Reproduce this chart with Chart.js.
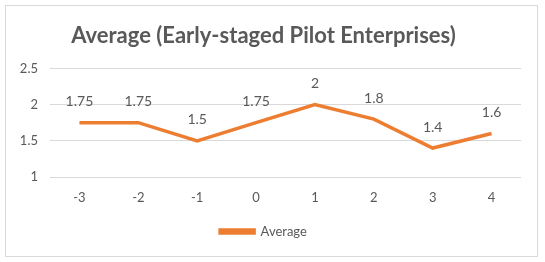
<!DOCTYPE html>
<html>
<head>
<meta charset="utf-8">
<script src="https://cdn.jsdelivr.net/npm/chart.js@4.4.0/dist/chart.umd.min.js"></script>
<style>
  html, body { margin: 0; padding: 0; background: #fff; }
  #box {
    position: absolute; left: 5px; top: 5px;
    width: 531px; height: 250px;
    border: 1px solid #d9d9d9;
  }
</style>
</head>
<body>
<div id="box"><canvas id="chart"></canvas></div>
<script>
// --- data ---
const categories = ['-3', '-2', '-1', '0', '1', '2', '3', '4'];
const averageValues = [1.75, 1.75, 1.5, 1.75, 2, 1.8, 1.4, 1.6];
const yTicks = [1, 1.5, 2, 2.5];

const textColor = '#595959';
const lineColor = '#ED7D31';
const gridColor = '#d9d9d9';

// labels above each point
const pointLabels = {
    id: 'pointLabels',
    afterDatasetsDraw(chart) {
        const ctx = chart.ctx;
        const meta = chart.getDatasetMeta(0);
        ctx.save();
        ctx.font = '14px Lato';
        ctx.fillStyle = textColor;
        ctx.textAlign = 'center';
        ctx.textBaseline = 'middle';
        meta.data.forEach((pt, i) => {
            ctx.fillText(String(averageValues[i]), pt.x, pt.y - 21);
        });
        ctx.restore();
    }
};

new Chart(document.getElementById('chart'), {
    type: 'line',
    data: {
        labels: categories,
        datasets: [{
            label: 'Average',
            data: averageValues,
            borderColor: lineColor,
            backgroundColor: lineColor,
            borderWidth: 3.5,
            pointRadius: 0,
            tension: 0,
            fill: false
        }]
    },
    options: {
        responsive: true,
        maintainAspectRatio: false,
        animation: false,
        layout: { padding: { left: 0, right: 16, top: 0, bottom: 8 } },
        scales: {
            y: {
                min: 1,
                max: 2.5,
                afterBuildTicks: (s) => { s.ticks = yTicks.map(v => ({ value: v })); },
                afterFit: (s) => { s.width = 44; },
                border: { display: false },
                grid: { color: gridColor, drawTicks: false },
                ticks: {
                    color: textColor, font: { family: 'Lato', size: 13 }, padding: 12,
                    callback: (v) => String(v)
                }
            },
            x: {
                offset: true,
                afterFit: (s) => { s.height = 34; },
                border: { display: false },
                grid: { display: false, drawTicks: false },
                ticks: { color: textColor, font: { family: 'Lato', size: 13 }, padding: 13 }
            }
        },
        plugins: {
            title: {
                display: true,
                text: 'Average (Early-staged Pilot Enterprises)',
                color: textColor,
                font: { family: 'Lato', size: 22, weight: 'bold' },
                padding: { top: 17, bottom: 19 }
            },
            legend: {
                position: 'bottom',
                labels: {
                    color: textColor,
                    font: { family: 'Lato', size: 13 },
                    boxWidth: 34,
                    boxHeight: 3,
                    padding: 14
                }
            },
            tooltip: { enabled: false }
        }
    },
    plugins: [pointLabels]
});
</script>
</body>
</html>
